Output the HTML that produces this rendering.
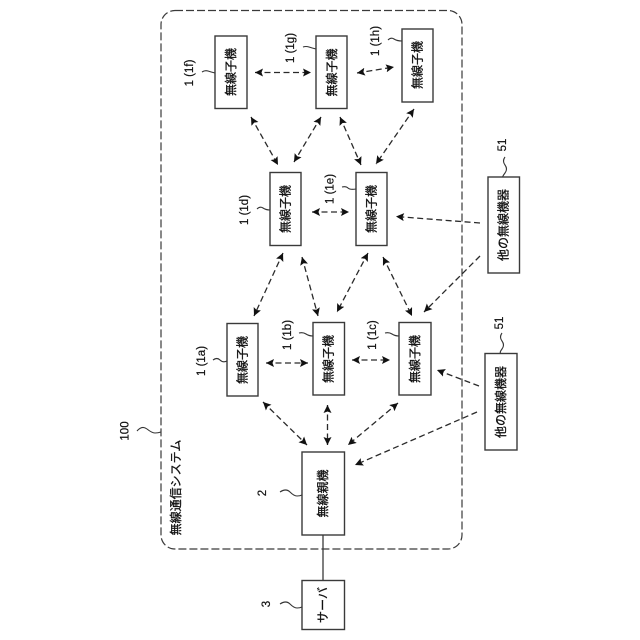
<!DOCTYPE html>
<html><head><meta charset="utf-8">
<style>
html,body{margin:0;padding:0;background:#fff;width:640px;height:640px;overflow:hidden}
svg{display:block}
.b{fill:#fff;stroke:#3a3a3a;stroke-width:1.4}
.a{fill:none;stroke:#2a2a2a;stroke-width:1.3;stroke-dasharray:6 3.5;marker-start:url(#h);marker-end:url(#h)}
.o{fill:none;stroke:#2a2a2a;stroke-width:1.3;stroke-dasharray:6 3.5;marker-end:url(#h)}
.s{fill:none;stroke:#333;stroke-width:1.1}
text{fill:#111;text-anchor:middle;dominant-baseline:central}
.j{font-family:"Liberation Sans","Noto Sans CJK JP",sans-serif;font-size:12px;stroke:#111;stroke-width:.3}
.l{font-family:"Liberation Sans",sans-serif;font-size:11.500px;stroke:#111;stroke-width:.2}
</style></head><body>
<svg width="640" height="640" viewBox="0 0 640 640" xmlns="http://www.w3.org/2000/svg">
<defs><marker id="h" markerUnits="userSpaceOnUse" markerWidth="9" markerHeight="8" refX="8" refY="4" orient="auto-start-reverse"><path d="M0 0L8 4L0 8L1.500 4Z" fill="#111"/></marker></defs>

<rect x="161" y="10.500" width="301" height="538.500" rx="14" fill="none" stroke="#3a3a3a" stroke-width="1.2" stroke-dasharray="8 3"/>

<line x1="323" y1="535" x2="323" y2="580" stroke="#3a3a3a" stroke-width="1.3"/>

<rect class="b" x="215" y="36" width="32" height="72.500"/>
<rect class="b" x="316" y="36" width="31" height="72.500"/>
<rect class="b" x="402" y="29" width="31" height="73"/>
<rect class="b" x="270" y="172.500" width="31" height="73"/>
<rect class="b" x="356" y="172.500" width="31" height="73"/>
<rect class="b" x="227" y="323.500" width="31" height="72.500"/>
<rect class="b" x="313" y="322.500" width="31.500" height="72.500"/>
<rect class="b" x="399" y="322.500" width="32" height="72.500"/>
<rect class="b" x="302" y="452" width="42.500" height="83"/>
<rect class="b" x="302" y="580.500" width="42.500" height="49"/>
<rect class="b" x="488" y="177" width="31.500" height="96"/>
<rect class="b" x="485" y="353.500" width="32" height="96.500"/>

<line class="a" x1="255" y1="72.500" x2="311" y2="72.500"/>
<line class="a" x1="251" y1="117" x2="278" y2="165"/>
<line class="a" x1="321" y1="117" x2="294" y2="162"/>
<line class="a" x1="357" y1="73" x2="394" y2="67"/>
<line class="a" x1="340" y1="117" x2="361" y2="165"/>
<line class="a" x1="414" y1="109" x2="376" y2="164"/>
<line class="a" x1="312" y1="212" x2="349" y2="212"/>
<line class="a" x1="283" y1="253" x2="254" y2="316"/>
<line class="a" x1="302" y1="257" x2="318" y2="316"/>
<line class="a" x1="368" y1="253" x2="337" y2="312"/>
<line class="a" x1="383" y1="257" x2="412" y2="316"/>
<line class="a" x1="266" y1="363" x2="308" y2="363"/>
<line class="a" x1="352" y1="360" x2="390" y2="360"/>
<line class="a" x1="263" y1="402" x2="307" y2="445"/>
<line class="a" x1="327.500" y1="405" x2="327.500" y2="445"/>
<line class="a" x1="398" y1="403" x2="348" y2="445"/>
<line class="o" x1="480" y1="223" x2="396" y2="216.500"/>
<line class="o" x1="480" y1="256" x2="424" y2="312"/>
<line class="o" x1="479" y1="386" x2="437" y2="370"/>
<line class="o" x1="477" y1="412" x2="355" y2="465"/>

<path class="s" d="M202 72q3-2 6-1t7 2"/>
<path class="s" d="M303 47q3-1 6 0t7 2"/>
<path class="s" d="M388 40q3-3 6-1t8 2"/>
<path class="s" d="M257 209q3-3 6-1t7 2"/>
<path class="s" d="M342 187q4-1 6 1t8 1"/>
<path class="s" d="M213 360q4-3 7 0t7 1"/>
<path class="s" d="M299 333q4-1 7 1t7 2"/>
<path class="s" d="M385 333q4-1 7 1t7 2"/>
<path class="s" d="M137 431q5-6 10-2t8 4t6-1"/>
<path class="s" d="M280 492q6-4 10 0t7 4t5-1"/>
<path class="s" d="M280 604q6-4 10 0t7 4t5-1"/>
<path class="s" d="M505 157q-3 4 0 8t0 8t-2 4"/>
<path class="s" d="M502 333q-3 4 0 8t0 8t-1 4"/>

<text class="j" transform="translate(231 72) rotate(-90)">無線子機</text>
<text class="j" transform="translate(332 72.500) rotate(-90)">無線子機</text>
<text class="j" transform="translate(417.500 65) rotate(-90)">無線子機</text>
<text class="j" transform="translate(285.500 209) rotate(-90)">無線子機</text>
<text class="j" transform="translate(371.500 209) rotate(-90)">無線子機</text>
<text class="j" transform="translate(242.500 360) rotate(-90)">無線子機</text>
<text class="j" transform="translate(328.500 359) rotate(-90)">無線子機</text>
<text class="j" transform="translate(415 359) rotate(-90)">無線子機</text>
<text class="j" transform="translate(323 493.500) rotate(-90)">無線親機</text>
<text class="j" transform="translate(323 605) rotate(-90)">サーバ</text>
<text class="j" transform="translate(503.500 225) rotate(-90)">他の無線機器</text>
<text class="j" transform="translate(501 402) rotate(-90)">他の無線機器</text>
<text class="j" transform="translate(176 487.500) rotate(-90)">無線通信システム</text>

<text class="l" transform="translate(190 73) rotate(-90)">1 (1f)</text>
<text class="l" transform="translate(291 48) rotate(-90)">1 (1g)</text>
<text class="l" transform="translate(376 41) rotate(-90)">1 (1h)</text>
<text class="l" transform="translate(245 210) rotate(-90)">1 (1d)</text>
<text class="l" transform="translate(330.500 189) rotate(-90)">1 (1e)</text>
<text class="l" transform="translate(202 361) rotate(-90)">1 (1a)</text>
<text class="l" transform="translate(288 335) rotate(-90)">1 (1b)</text>
<text class="l" transform="translate(373 335) rotate(-90)">1 (1c)</text>
<text class="l" transform="translate(125.500 431) rotate(-90)">100</text>
<text class="l" transform="translate(263 493) rotate(-90)">2</text>
<text class="l" transform="translate(267 604) rotate(-90)">3</text>
<text class="l" transform="translate(503 145) rotate(-90)">51</text>
<text class="l" transform="translate(500 323) rotate(-90)">51</text>
</svg>
</body></html>
